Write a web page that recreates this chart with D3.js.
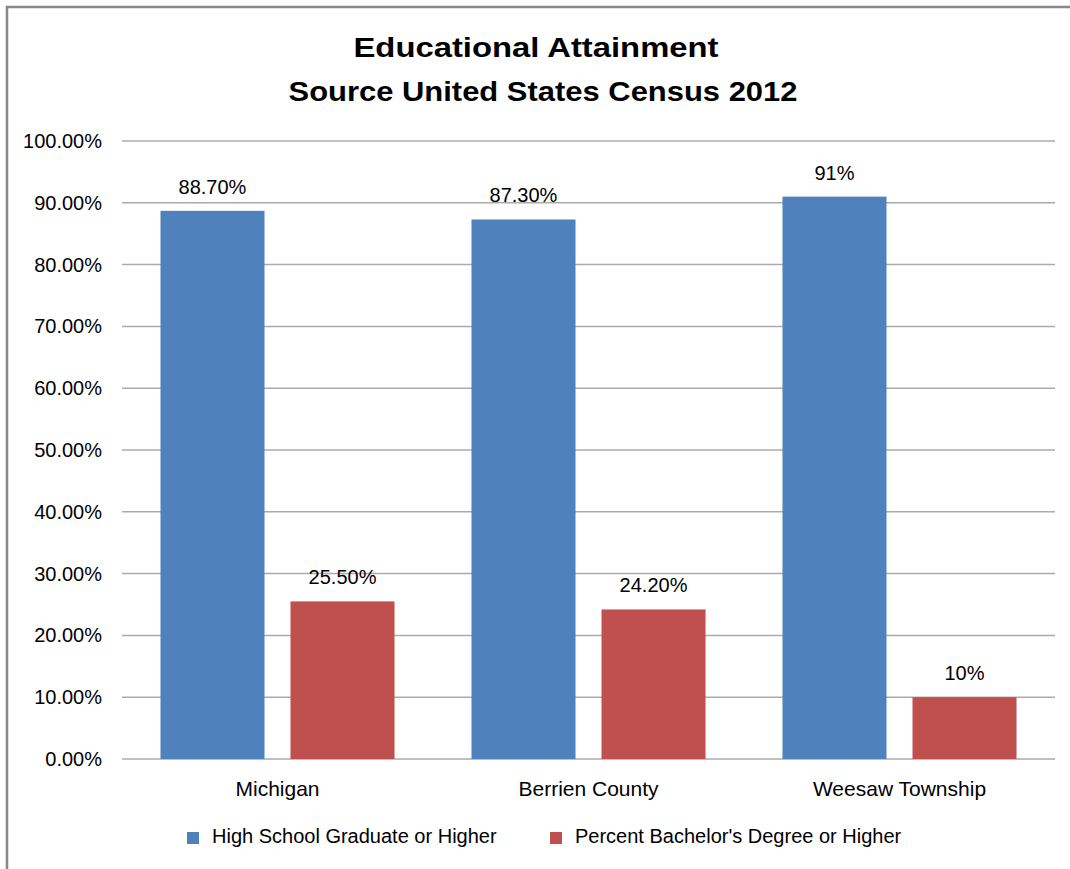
<!DOCTYPE html>
<html><head><meta charset="utf-8">
<script src="https://cdn.jsdelivr.net/npm/d3@7"></script>
<style>body{margin:0;background:#fff;} text{font-family:"Liberation Sans",Arial,sans-serif;fill:#000;}</style>
</head><body>
<svg id="c" width="1070" height="869"></svg>
<script>
const categories = ["Michigan", "Berrien County", "Weesaw Township"];
const seriesNames = ["High School Graduate or Higher", "Percent Bachelor's Degree or Higher"];
const highSchool = [88.7, 87.3, 91];
const bachelor = [25.5, 24.2, 10];
const highSchoolLabels = ["88.70%", "87.30%", "91%"];
const bachelorLabels = ["25.50%", "24.20%", "10%"];
const yTicks = [0, 10, 20, 30, 40, 50, 60, 70, 80, 90, 100];
const colors = ["#4f81bd", "#c0504d"];

const svg = d3.select("#c");
// outer border
svg.append("path").attr("d", "M7,869 V7 H1070").attr("fill", "none").attr("stroke", "#888").attr("stroke-width", 2.5);

const plotL = 122, plotR = 1055, plotT = 141, plotB = 759;
const x0 = d3.scaleBand().domain(categories).range([plotL, plotR]).paddingInner(0).paddingOuter(0);
const y = d3.scaleLinear().domain([0, 100]).range([plotB, plotT]);
const x1 = d3.scaleBand().domain([0, 1]).range([0, x0.bandwidth()]).paddingInner(0.2).paddingOuter(0.296);

// title
const title = svg.append("text").attr("text-anchor", "middle").attr("font-weight", "bold").attr("font-size", 27);
title.append("tspan").attr("x", 536).attr("y", 57).attr("textLength", 365).attr("lengthAdjust", "spacingAndGlyphs").text("Educational Attainment");
title.append("tspan").attr("x", 543).attr("y", 101).attr("textLength", 509).attr("lengthAdjust", "spacingAndGlyphs").text("Source United States Census 2012");

// gridlines
svg.append("g").selectAll("line").data(yTicks).join("line")
  .attr("x1", plotL).attr("x2", plotR)
  .attr("y1", d => y(d)).attr("y2", d => y(d))
  .attr("stroke", "#ababab").attr("stroke-width", 1.5);

// y axis labels
svg.append("g").selectAll("text").data(yTicks).join("text")
  .attr("x", 102).attr("y", d => y(d) + 7)
  .attr("text-anchor", "end").attr("font-size", 20)
  .text(d => d3.format(".2f")(d) + "%");

const series = [highSchool, bachelor];
const labels = [highSchoolLabels, bachelorLabels];
series.forEach((vals, si) => {
  const g = svg.append("g");
  g.selectAll("rect").data(vals).join("rect")
    .attr("x", (d, i) => x0(categories[i]) + x1(si))
    .attr("width", x1.bandwidth())
    .attr("y", d => y(d))
    .attr("height", d => plotB - y(d))
    .attr("fill", colors[si]);
  g.selectAll("text").data(vals).join("text")
    .attr("x", (d, i) => x0(categories[i]) + x1(si) + x1.bandwidth() / 2)
    .attr("y", d => y(d) - 17)
    .attr("text-anchor", "middle").attr("font-size", 20)
    .text((d, i) => labels[si][i]);
});

// category labels
svg.append("g").selectAll("text").data(categories).join("text")
  .attr("x", d => x0(d) + x0.bandwidth() / 2).attr("y", 796)
  .attr("text-anchor", "middle").attr("font-size", 21)
  .text(d => d);

// legend
const legendX = [187, 550];
const lg = svg.append("g");
seriesNames.forEach((n, i) => {
  lg.append("rect").attr("x", legendX[i]).attr("y", 832).attr("width", 12).attr("height", 12).attr("fill", colors[i]);
  lg.append("text").attr("x", legendX[i] + 25).attr("y", 843).attr("font-size", 20).text(n);
});
</script>
</body></html>
